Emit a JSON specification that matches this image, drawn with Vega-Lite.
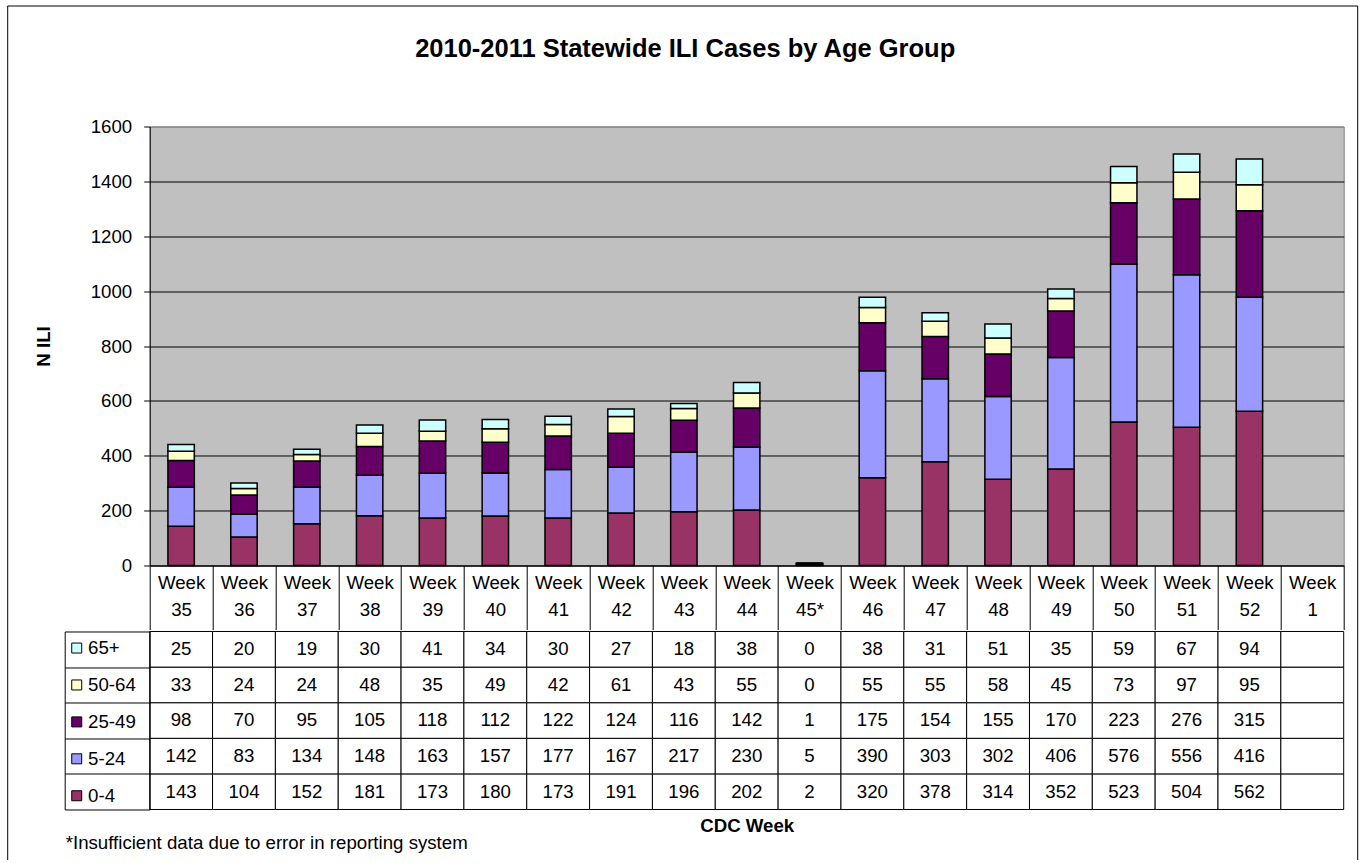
{
  "$schema": "https://vega.github.io/schema/vega-lite/v6.json",
  "padding": {"left": 32.7, "top": 5.5, "right": 19, "bottom": 3},
  "background": "white",
  "spacing": 0,
  "datasets": {
    "ili": [
      {"week": "Week 35", "group": "0-4", "n": 143}, {"week": "Week 35", "group": "5-24", "n": 142}, {"week": "Week 35", "group": "25-49", "n": 98}, {"week": "Week 35", "group": "50-64", "n": 33}, {"week": "Week 35", "group": "65+", "n": 25},
      {"week": "Week 36", "group": "0-4", "n": 104}, {"week": "Week 36", "group": "5-24", "n": 83}, {"week": "Week 36", "group": "25-49", "n": 70}, {"week": "Week 36", "group": "50-64", "n": 24}, {"week": "Week 36", "group": "65+", "n": 20},
      {"week": "Week 37", "group": "0-4", "n": 152}, {"week": "Week 37", "group": "5-24", "n": 134}, {"week": "Week 37", "group": "25-49", "n": 95}, {"week": "Week 37", "group": "50-64", "n": 24}, {"week": "Week 37", "group": "65+", "n": 19},
      {"week": "Week 38", "group": "0-4", "n": 181}, {"week": "Week 38", "group": "5-24", "n": 148}, {"week": "Week 38", "group": "25-49", "n": 105}, {"week": "Week 38", "group": "50-64", "n": 48}, {"week": "Week 38", "group": "65+", "n": 30},
      {"week": "Week 39", "group": "0-4", "n": 173}, {"week": "Week 39", "group": "5-24", "n": 163}, {"week": "Week 39", "group": "25-49", "n": 118}, {"week": "Week 39", "group": "50-64", "n": 35}, {"week": "Week 39", "group": "65+", "n": 41},
      {"week": "Week 40", "group": "0-4", "n": 180}, {"week": "Week 40", "group": "5-24", "n": 157}, {"week": "Week 40", "group": "25-49", "n": 112}, {"week": "Week 40", "group": "50-64", "n": 49}, {"week": "Week 40", "group": "65+", "n": 34},
      {"week": "Week 41", "group": "0-4", "n": 173}, {"week": "Week 41", "group": "5-24", "n": 177}, {"week": "Week 41", "group": "25-49", "n": 122}, {"week": "Week 41", "group": "50-64", "n": 42}, {"week": "Week 41", "group": "65+", "n": 30},
      {"week": "Week 42", "group": "0-4", "n": 191}, {"week": "Week 42", "group": "5-24", "n": 167}, {"week": "Week 42", "group": "25-49", "n": 124}, {"week": "Week 42", "group": "50-64", "n": 61}, {"week": "Week 42", "group": "65+", "n": 27},
      {"week": "Week 43", "group": "0-4", "n": 196}, {"week": "Week 43", "group": "5-24", "n": 217}, {"week": "Week 43", "group": "25-49", "n": 116}, {"week": "Week 43", "group": "50-64", "n": 43}, {"week": "Week 43", "group": "65+", "n": 18},
      {"week": "Week 44", "group": "0-4", "n": 202}, {"week": "Week 44", "group": "5-24", "n": 230}, {"week": "Week 44", "group": "25-49", "n": 142}, {"week": "Week 44", "group": "50-64", "n": 55}, {"week": "Week 44", "group": "65+", "n": 38},
      {"week": "Week 45*", "group": "0-4", "n": 2}, {"week": "Week 45*", "group": "5-24", "n": 5}, {"week": "Week 45*", "group": "25-49", "n": 1}, {"week": "Week 45*", "group": "50-64", "n": 0}, {"week": "Week 45*", "group": "65+", "n": 0},
      {"week": "Week 46", "group": "0-4", "n": 320}, {"week": "Week 46", "group": "5-24", "n": 390}, {"week": "Week 46", "group": "25-49", "n": 175}, {"week": "Week 46", "group": "50-64", "n": 55}, {"week": "Week 46", "group": "65+", "n": 38},
      {"week": "Week 47", "group": "0-4", "n": 378}, {"week": "Week 47", "group": "5-24", "n": 303}, {"week": "Week 47", "group": "25-49", "n": 154}, {"week": "Week 47", "group": "50-64", "n": 55}, {"week": "Week 47", "group": "65+", "n": 31},
      {"week": "Week 48", "group": "0-4", "n": 314}, {"week": "Week 48", "group": "5-24", "n": 302}, {"week": "Week 48", "group": "25-49", "n": 155}, {"week": "Week 48", "group": "50-64", "n": 58}, {"week": "Week 48", "group": "65+", "n": 51},
      {"week": "Week 49", "group": "0-4", "n": 352}, {"week": "Week 49", "group": "5-24", "n": 406}, {"week": "Week 49", "group": "25-49", "n": 170}, {"week": "Week 49", "group": "50-64", "n": 45}, {"week": "Week 49", "group": "65+", "n": 35},
      {"week": "Week 50", "group": "0-4", "n": 523}, {"week": "Week 50", "group": "5-24", "n": 576}, {"week": "Week 50", "group": "25-49", "n": 223}, {"week": "Week 50", "group": "50-64", "n": 73}, {"week": "Week 50", "group": "65+", "n": 59},
      {"week": "Week 51", "group": "0-4", "n": 504}, {"week": "Week 51", "group": "5-24", "n": 556}, {"week": "Week 51", "group": "25-49", "n": 276}, {"week": "Week 51", "group": "50-64", "n": 97}, {"week": "Week 51", "group": "65+", "n": 67},
      {"week": "Week 52", "group": "0-4", "n": 562}, {"week": "Week 52", "group": "5-24", "n": 416}, {"week": "Week 52", "group": "25-49", "n": 315}, {"week": "Week 52", "group": "50-64", "n": 95}, {"week": "Week 52", "group": "65+", "n": 94},
      {"week": "Week 1", "group": "0-4", "n": null}, {"week": "Week 1", "group": "5-24", "n": null}, {"week": "Week 1", "group": "25-49", "n": null}, {"week": "Week 1", "group": "50-64", "n": null}, {"week": "Week 1", "group": "65+", "n": null}
    ]
  },
  "vconcat": [
    {
      "width": 1194,
      "height": 439,
      "view": {"fill": "#C0C0C0", "stroke": "#808080"},
      "title": {"text": "2010-2011 Statewide ILI Cases by Age Group", "fontSize": 25.5, "fontWeight": "bold", "anchor": "middle", "frame": "bounds", "baseline": "alphabetic", "offset": 35, "color": "black", "dx": -4},
      "data": {"name": "ili"},
      "transform": [
        {"filter": "isValid(datum.n)"},
        {"calculate": "indexof(['0-4','5-24','25-49','50-64','65+'], datum.group)", "as": "stackOrder"}
      ],
      "layer": [
        {
          "mark": {"type": "bar", "stroke": "black", "strokeWidth": 1.5, "width": {"band": 0.42}},
          "encoding": {
            "x": {
              "field": "week", "type": "nominal",
              "scale": {"domain": ["Week 35","Week 36","Week 37","Week 38","Week 39","Week 40","Week 41","Week 42","Week 43","Week 44","Week 45*","Week 46","Week 47","Week 48","Week 49","Week 50","Week 51","Week 52","Week 1"], "paddingInner": 0, "paddingOuter": 0},
              "axis": {"title": null, "orient": "bottom", "domain": true, "domainColor": "black", "ticks": true, "tickBand": "extent", "tickSize": 64, "tickColor": "black", "labelExpr": "split(datum.label, ' ')", "labelFontSize": 18.67, "labelColor": "black", "labelAngle": 0, "labelPadding": -41, "labelBaseline": "alphabetic", "labelLineHeight": 27, "labelOverlap": false, "labelBound": false, "grid": false}
            },
            "y": {
              "field": "n", "type": "quantitative", "stack": "zero",
              "scale": {"domain": [0, 1600], "nice": false},
              "axis": {"title": "N ILI", "titleFontSize": 18.67, "titleFontWeight": "bold", "titleColor": "black", "titlePadding": 37, "values": [0, 200, 400, 600, 800, 1000, 1200, 1400, 1600], "format": "d", "labelFontSize": 18.67, "labelColor": "black", "labelPadding": 12, "tickSize": 6, "tickColor": "black", "domainColor": "black", "grid": true, "gridColor": {"condition": {"test": "datum.value === 1600", "value": "#808080"}, "value": "black"}, "gridOpacity": 1}
            },
            "color": {
              "field": "group", "type": "nominal",
              "scale": {"domain": ["65+", "50-64", "25-49", "5-24", "0-4"], "range": ["#CCFFFF", "#FFFFCC", "#660066", "#9999FF", "#993366"]},
              "legend": {"orient": "none", "legendX": -82.3, "legendY": 512.2, "title": null, "padding": 0, "symbolType": "square", "symbolSize": 100, "symbolStrokeColor": "black", "symbolStrokeWidth": 1, "symbolOpacity": 1, "labelFontSize": 18.67, "labelColor": "black", "labelOffset": 2, "rowPadding": 16.93, "labelLimit": 200}
            },
            "order": {"field": "stackOrder", "type": "quantitative"}
          }
        },
        {
          "mark": {"type": "point", "opacity": 0},
          "transform": [{"filter": "datum.week == 'Week 35' && datum.group == '0-4'"}],
          "encoding": {
            "shape": {
              "datum": "frame",
              "scale": {"range": ["M-1.5808,1V-1H1.5808V1"]},
              "legend": {"orient": "none", "legendX": 105.5, "legendY": -121, "title": null, "padding": 0, "symbolSize": 729316, "symbolStrokeColor": "black", "symbolStrokeWidth": 1, "symbolFillColor": "transparent", "symbolOpacity": 1, "labelExpr": "''", "labelFontSize": 1}
            }
          }
        }
      ]
    },
    {
      "width": 1194,
      "height": 178,
      "view": {"stroke": null},
      "data": {"name": "ili"},
      "title": {"text": "*Insufficient data due to error in reporting system", "orient": "bottom", "anchor": "start", "frame": "bounds", "fontSize": 18.67, "fontWeight": "normal", "baseline": "top", "offset": -1, "color": "black", "dx": 1.5},
      "encoding": {
        "x": {
          "field": "week", "type": "nominal",
          "scale": {"domain": ["Week 35","Week 36","Week 37","Week 38","Week 39","Week 40","Week 41","Week 42","Week 43","Week 44","Week 45*","Week 46","Week 47","Week 48","Week 49","Week 50","Week 51","Week 52","Week 1"], "paddingInner": 0, "paddingOuter": 0},
          "axis": {"title": "CDC Week", "orient": "bottom", "labels": false, "ticks": false, "domain": false, "grid": false, "titleFontSize": 18.67, "titleFontWeight": "bold", "titleColor": "black", "titlePadding": 7}
        }
      },
      "layer": [
        {
          "mark": {"type": "rect", "fill": "white", "stroke": "black", "strokeWidth": 1},
          "encoding": {
            "y": {
              "field": "group", "type": "nominal",
              "scale": {"domain": ["65+", "50-64", "25-49", "5-24", "0-4"], "paddingInner": 0, "paddingOuter": 0},
              "axis": {"title": null, "orient": "left", "labels": false, "ticks": true, "tickBand": "extent", "tickSize": 85, "tickColor": "black", "domain": true, "domainColor": "black", "grid": false}
            }
          }
        },
        {
          "mark": {"type": "text", "fontSize": 18.67, "color": "black"},
          "transform": [{"filter": "isValid(datum.n)"}],
          "encoding": {
            "y": {
              "field": "group", "type": "nominal",
              "axis": {"title": null, "orient": "left", "offset": 85, "labels": false, "ticks": false, "domain": true, "domainColor": "black", "grid": false}
            },
            "text": {"field": "n", "type": "quantitative"}
          }
        }
      ],
      "resolve": {"axis": {"y": "independent"}}
    }
  ],
  "config": {
    "font": "Liberation Sans",
    "axis": {"labelFont": "Liberation Sans", "titleFont": "Liberation Sans"},
    "legend": {"labelFont": "Liberation Sans"},
    "title": {"font": "Liberation Sans"}
  }
}
